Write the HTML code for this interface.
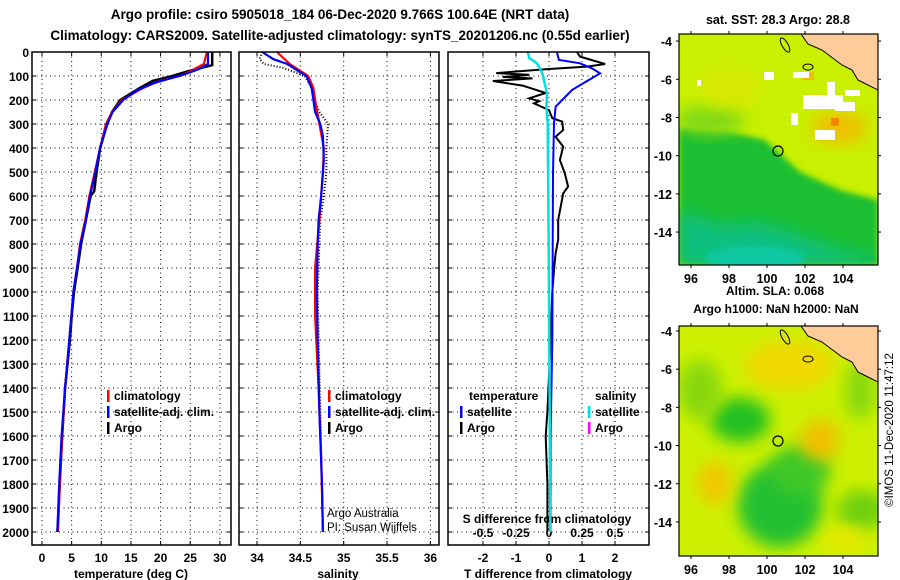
<!DOCTYPE html>
<html><head><meta charset="utf-8">
<style>
html,body{margin:0;padding:0;background:#fff;}
svg{display:block;font-family:"Liberation Sans",Arial,sans-serif;font-weight:bold;}
</style></head>
<body>
<svg id="chart" width="900" height="580" viewBox="0 0 900 580" xmlns="http://www.w3.org/2000/svg">
<defs>
<filter id="blur6" x="-30%" y="-30%" width="160%" height="160%"><feGaussianBlur stdDeviation="8"/></filter>
<filter id="blur3" x="-30%" y="-30%" width="160%" height="160%"><feGaussianBlur stdDeviation="3"/></filter>
<clipPath id="clipTop"><rect x="679" y="34" width="199" height="231"/></clipPath>
<clipPath id="clipBot"><rect x="679" y="326" width="199" height="230"/></clipPath>
</defs>
<text x="340" y="19" font-size="13.5" text-anchor="middle">Argo profile: csiro 5905018_184 06-Dec-2020 9.766S 100.64E (NRT data)</text>
<text x="340" y="40" font-size="13.5" text-anchor="middle">Climatology: CARS2009. Satellite-adjusted climatology: synTS_20201206.nc (0.55d earlier)</text>
<g id="panels"></g>

<!-- top map -->
<g clip-path="url(#clipTop)">
  <rect x="679" y="34" width="199" height="231" fill="#c8f000"/>
  <polygon points="679,128 730,132 765,140 800,172 840,190 878,200 878,265 679,265" fill="#1abf30" filter="url(#blur3)"/>
  <polygon points="679,210 720,225 760,222 800,235 840,250 878,258 878,265 679,265" fill="#11c080" filter="url(#blur6)"/>
  <ellipse cx="755" cy="258" rx="50" ry="12" fill="#10c8a0" filter="url(#blur3)"/>
  <ellipse cx="710" cy="120" rx="35" ry="15" fill="#80d818" filter="url(#blur6)"/>
  <ellipse cx="730" cy="88" rx="30" ry="20" fill="#d8e800" filter="url(#blur6)"/>
  <ellipse cx="840" cy="128" rx="28" ry="16" fill="#f0c000" filter="url(#blur6)"/>
  <rect x="831" y="118" width="8" height="8" fill="#f08800"/>
  <rect x="802" y="72" width="12" height="8" fill="#f0c000"/>
  <g fill="#ffffff">
    <rect x="764" y="72" width="10" height="8"/><rect x="793" y="72" width="16" height="6"/>
    <rect x="827" y="82" width="8" height="20"/><rect x="803" y="95" width="40" height="14"/><rect x="835" y="102" width="20" height="9"/>
    <rect x="791" y="113" width="7" height="12"/><rect x="815" y="130" width="20" height="10"/><rect x="845" y="90" width="15" height="6"/>
    <rect x="697" y="80" width="4" height="6"/>
  </g>
  <polygon points="801,34 808,44 822,50 830,56 842,65 852,70 858,80 866,84 878,90 878,34" fill="#ffcc99" stroke="#000" stroke-width="1"/>
  <ellipse cx="785" cy="45" rx="3" ry="8" transform="rotate(-30 785 45)" fill="none" stroke="#000"/>
  <ellipse cx="808" cy="67" rx="5" ry="3" fill="none" stroke="#000"/>
  <circle cx="778" cy="151" r="5" fill="none" stroke="#000" stroke-width="1.2"/>
</g>
<rect x="679" y="34" width="199" height="231" fill="none" stroke="#000" stroke-width="1.2"/>
<text x="778" y="24" font-size="12.5" text-anchor="middle">sat. SST: 28.3 Argo: 28.8</text>
<text x="775" y="295" font-size="12" text-anchor="middle">Altim. SLA: 0.068</text>
<text x="776" y="313" font-size="12" text-anchor="middle">Argo h1000: NaN h2000: NaN</text>

<!-- bottom map -->
<g clip-path="url(#clipBot)">
  <rect x="679" y="326" width="199" height="230" fill="#ccf000"/>
  <ellipse cx="740" cy="420" rx="30" ry="22" fill="#22c022" filter="url(#blur6)"/>
  <ellipse cx="780" cy="505" rx="42" ry="42" fill="#20c030" filter="url(#blur6)"/>
  <ellipse cx="800" cy="470" rx="30" ry="25" fill="#40c828" filter="url(#blur6)"/>
  <ellipse cx="700" cy="390" rx="22" ry="30" fill="#88d810" filter="url(#blur6)"/>
  <ellipse cx="860" cy="390" rx="15" ry="30" fill="#88d810" filter="url(#blur6)"/>
  <ellipse cx="862" cy="510" rx="25" ry="20" fill="#70d010" filter="url(#blur6)"/>
  <ellipse cx="820" cy="440" rx="20" ry="20" fill="#f0c000" filter="url(#blur6)"/>
  <ellipse cx="715" cy="483" rx="18" ry="22" fill="#f0c800" filter="url(#blur6)"/>
  <ellipse cx="790" cy="365" rx="45" ry="25" fill="#f0d800" filter="url(#blur6)"/>
  <ellipse cx="845" cy="540" rx="20" ry="12" fill="#e8e800" filter="url(#blur6)"/>
  <polygon points="801,326 808,336 822,342 830,348 842,357 852,362 858,372 866,376 878,382 878,326" fill="#ffcc99" stroke="#000" stroke-width="1"/>
  <ellipse cx="785" cy="337" rx="3" ry="8" transform="rotate(-30 785 337)" fill="none" stroke="#000"/>
  <ellipse cx="808" cy="359" rx="5" ry="3" fill="none" stroke="#000"/>
  <circle cx="778" cy="441" r="5" fill="none" stroke="#000" stroke-width="1.2"/>
</g>
<rect x="679" y="326" width="199" height="230" fill="none" stroke="#000" stroke-width="1.2"/>
<g id="mapaxes" font-size="12.5"></g>
<text transform="translate(893,430) rotate(-90)" font-size="11.5" font-weight="normal" text-anchor="middle">©IMOS 11-Dec-2020 11:47:12</text>
</svg>
<script>
// ---------- data ----------
const tDepth   = [0,50,55,80,100,120,150,180,200,250,300,400,500,580,600,700,800,900,1000,1100,1200,1400,1600,1800,2000];
const tArgo    = [28.7,28.7,28.7,24.6,22,18.7,16.5,14.5,13.2,11.8,11,9.8,9.2,8.8,8.2,7.4,6.6,6,5.4,5,4.7,3.9,3.4,3.0,2.6];
const climDepth= [0,50,80,100,120,150,200,250,300,400,500,600,700,800,900,1000,1200,1400,1600,1800,2000];
const tClim    = [27.8,27.3,25,23.3,19.9,17,13.5,11.8,10.8,9.8,8.9,8,7.3,6.4,5.9,5.3,4.6,3.9,3.4,3.0,2.7];
const satDepth = [0,50,70,90,110,130,160,200,250,300,400,500,600,700,800,900,1000,1200,1400,1600,1800,2000];
const tSat     = [28,28,26.6,24.4,21.6,18.8,16,13.7,11.9,11,9.8,9.0,8.1,7.4,6.5,5.9,5.3,4.6,3.9,3.3,2.9,2.6];
const sDepthA  = [0,30,50,66,100,150,200,250,300,400,500,600,700,800,1000,1200,1500,2000];
const sArgo    = [34.06,34.03,34.08,34.3,34.55,34.63,34.66,34.72,34.82,34.80,34.80,34.77,34.73,34.72,34.70,34.71,34.73,34.76];
const sDepthC  = [0,50,100,150,200,300,400,500,700,900,1100,1400,1700,2000];
const sClim    = [34.23,34.38,34.59,34.65,34.67,34.72,34.77,34.76,34.72,34.67,34.67,34.71,34.74,34.76];
const sDepthS  = [0,30,50,80,100,150,200,250,300,350,450,600,700,800,1000,1200,1500,1800,2000];
const sSat     = [34.06,34.19,34.35,34.48,34.57,34.63,34.65,34.67,34.73,34.76,34.77,34.74,34.71,34.70,34.69,34.70,34.72,34.75,34.76];
const dDepthA  = [0,19,50,61,71,88,95,104,110,121,140,171,193,205,214,242,276,290,325,353,394,450,506,561,589,700,783,839,908,1000,1200,1500,1600,1800,2000];
const dTArgo   = [0.85,0.94,1.7,1.15,0,-1.6,-0.6,-1.4,-0.5,-1.7,-0.8,-0.1,-0.6,-0.3,-0.45,0,0.1,0.4,0.43,0.2,0.43,0.33,0.48,0.58,0.43,0.28,0.28,0.2,0.15,0.1,0.05,-0.05,-0.1,-0.05,-0.05];
const dDepthS  = [0,33,47,68,89,117,158,200,228,297,506,1200,1600,2000];
const dTSat    = [0.24,0.3,0.94,1.3,1.55,1.2,0.7,0.4,0.2,0.15,0.12,0.1,0.05,0.05];
const dDepthSS = [0,25,47,89,172,228,297,600,1000,1500,2000];
const dSSat    = [-0.16,-0.15,-0.09,-0.05,-0.015,-0.02,-0.01,-0.005,0,0.005,0.01];
const depthTicks = [0,100,200,300,400,500,600,700,800,900,1000,1100,1200,1300,1400,1500,1600,1700,1800,1900,2000];
const tTicks = [0,5,10,15,20,25,30];
const sTicks = [34,34.5,35,35.5,36];
const sTickLabels = ["34","34.5","35","35.5","36"];
const dTTicks = [-2,-1,0,1,2];
const dSTicks = [-0.5,-0.25,0,0.25,0.5];
const lonTicks = [96,98,100,102,104];
const latTicks = [-4,-6,-8,-10,-12,-14];

// ---------- scales ----------
const y = d => 52 + d*0.24;
const xT = v => 42 + v*5.93;
const xS = v => 257 + (v-34)*86.7;
const xD = v => 549 + v*33;
const xDS = v => 549 + v*132;
const PT=52, PB=545;
const NS="http://www.w3.org/2000/svg";
const root=document.getElementById('panels');
function el(tag,attrs,parent){const e=document.createElementNS(NS,tag);for(const k in attrs)e.setAttribute(k,attrs[k]);(parent||root).appendChild(e);return e;}
function line(xs,ds,xf,color,w,name,dash){
  const p=el('path',{d:xs.map((v,i)=>(i?'L':'M')+xf(v).toFixed(1)+','+y(ds[i]).toFixed(1)).join(''),fill:'none',stroke:color,'stroke-width':w});
  if(dash)p.setAttribute('stroke-dasharray',dash);
  
  
}
function txt(x,yy,s,size,anchor,name,weight){const t=el('text',{x:x,y:yy,'font-size':size,'text-anchor':anchor||'start'});if(weight)t.setAttribute('font-weight',weight);t.textContent=s;
  
  
  return t;}
const panels=[[32,231,'temperature-panel'],[239,439,'salinity-panel'],[448,649,'difference-panel']];
panels.forEach(([l,r,n])=>{
  depthTicks.forEach(d=>{ if(d>0&&d<2050){const g=el('line',{x1:l,x2:r,y1:y(d),y2:y(d),stroke:'#000','stroke-dasharray':'1,3.5'});
    
    
    el('line',{x1:l,x2:l+4,y1:y(d),y2:y(d),stroke:'#000'});el('line',{x1:r-4,x2:r,y1:y(d),y2:y(d),stroke:'#000'});}});
});
function vgrid(xs,f,l,r){xs.forEach(v=>{const X=f(v);
  const g=el('line',{x1:X,x2:X,y1:PT,y2:PB,stroke:'#000','stroke-dasharray':'1,3.5'});
  
  
  el('line',{x1:X,x2:X,y1:PT,y2:PT+4,stroke:'#000'});el('line',{x1:X,x2:X,y1:PB-4,y2:PB,stroke:'#000'});});}
vgrid(tTicks,xT);vgrid(sTicks,xS);vgrid(dTTicks,xD);
depthTicks.forEach(d=>txt(29,y(d)+5,String(d),12,'end','depth-tick-label'));
tTicks.forEach(v=>txt(xT(v),562,String(v),12,'middle','temperature-tick-label'));
sTicks.forEach((v,i)=>txt(xS(v),562,sTickLabels[i],12,'middle','salinity-tick-label'));
dTTicks.forEach(v=>txt(xD(v),562,String(v),12,'middle','t-diff-tick-label'));
dSTicks.forEach(v=>txt(xDS(v),537,String(v),12,'middle','s-diff-tick-label'));
txt(131,578,'temperature (deg C)',12,'middle','temperature-axis-title');
txt(338,578,'salinity',12,'middle','salinity-axis-title');
txt(548,578,'T difference from climatology',12,'middle','t-diff-axis-title');
txt(547,523,'S difference from climatology',12,'middle','s-diff-axis-title');
// series
line(tArgo,tDepth,xT,'#000',2.5,'temperature-argo-line');
line(tClim,climDepth,xT,'#ff0000',2.2,'temperature-climatology-line');
line(tSat,satDepth,xT,'#0000ff',2.2,'temperature-satellite-line');
line(sArgo,sDepthA,xS,'#000',2,'salinity-argo-line','1,2');
line(sClim,sDepthC,xS,'#ff0000',2.2,'salinity-climatology-line');
line(sSat,sDepthS,xS,'#0000ff',2.2,'salinity-satellite-line');
line(dTArgo,dDepthA,xD,'#000',2,'t-diff-argo-line');
line(dTSat,dDepthS,xD,'#0000ff',2,'t-diff-satellite-line');
line(dSSat,dDepthSS,xDS,'#00e0e0',2.5,'s-diff-satellite-line');
panels.forEach(([l,r,n])=>{const b=el('rect',{x:l,y:PT,width:r-l,height:PB-PT,fill:'none',stroke:'#000','stroke-width':1.5});
  
  });
// legends
function leg(x,yy,c,s,name){el('rect',{x:x,y:yy-10,width:2.5,height:12,fill:c});txt(x+7,yy,s,12,'start',name);}
leg(107,400,'#ff0000','climatology','legend-climatology');
leg(107,416,'#0000ff','satellite-adj. clim.','legend-satellite-adj');
leg(107,432,'#000','Argo','legend-argo');
leg(328,400,'#ff0000','climatology','legend-climatology-s');
leg(328,416,'#0000ff','satellite-adj. clim.','legend-satellite-adj-s');
leg(328,432,'#000','Argo','legend-argo-s');
txt(469,400,'temperature',12,'start','legend-temperature-heading');
leg(460,416,'#0000ff','satellite','legend-t-satellite');
leg(460,432,'#000','Argo','legend-t-argo');
txt(595,400,'salinity',12,'start','legend-salinity-heading');
leg(588,416,'#00e0e0','satellite','legend-s-satellite');
leg(588,432,'#ff00ff','Argo','legend-s-argo');
const c1=txt(327,517,'Argo Australia',11.5,'start','credit-argo-australia','normal');
const c2=txt(327,531,'PI: Susan Wijffels',11.5,'start','credit-pi','normal');
// map axes
const ma=document.getElementById('mapaxes');
const lonX=v=>691+(v-96)*19;
[[34,265,-3.63],[326,556,-3.74]].forEach(([t,b,lat0])=>{
  const latY=v=>t+(lat0-v)*19.1;
  lonTicks.forEach(v=>{el('line',{x1:lonX(v),x2:lonX(v),y1:t-3,y2:t,stroke:'#000'},ma);el('line',{x1:lonX(v),x2:lonX(v),y1:b,y2:b+3,stroke:'#000'},ma);
    const tt=el('text',{x:lonX(v),y:b+18,'text-anchor':'middle','font-size':12.5},ma);tt.textContent=v;
    
    });
  latTicks.forEach(v=>{el('line',{x1:676,x2:679,y1:latY(v),y2:latY(v),stroke:'#000'},ma);el('line',{x1:878,x2:881,y1:latY(v),y2:latY(v),stroke:'#000'},ma);
    const tt=el('text',{x:672,y:latY(v)+5,'text-anchor':'end','font-size':12.5},ma);tt.textContent=v;
    
    });
});
</script>
</body></html>
